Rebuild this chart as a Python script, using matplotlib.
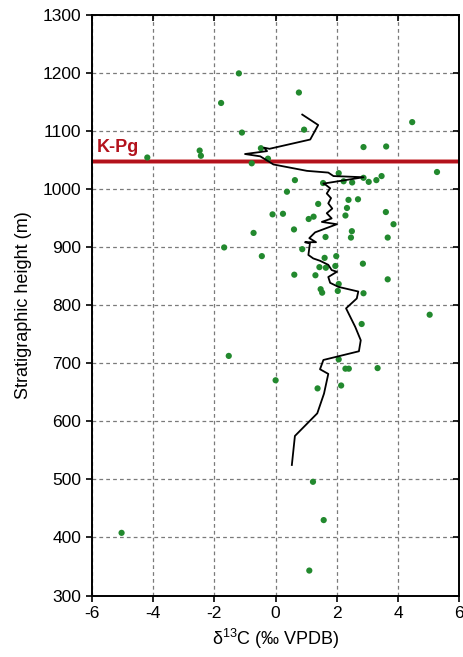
import matplotlib
matplotlib.use("Agg")
import matplotlib.pyplot as plt

plt.rcParams['font.family'] = ['Liberation Sans', 'DejaVu Sans']
plt.rcParams['mathtext.fontset'] = 'custom'
plt.rcParams['mathtext.rm'] = 'Liberation Sans'
plt.rcParams['mathtext.default'] = 'regular'
plt.rcParams['axes.unicode_minus'] = False

# Sample points: d13C (x) and stratigraphic height (y)
pts_x = [-1.2, 0.76, -1.78, 4.46, 0.93, -1.1, -0.48, 2.87, 3.61, -2.48,
         -2.44, -4.19, -0.25, -0.78, 5.27, 2.06, 3.46, 2.87, 3.29, 3.04,
         2.22, 2.5, 0.63, 1.55, 0.37, 2.69, 2.38, 1.39, 2.33, 3.6,
         0.24, -0.1, 2.28, 1.24, 1.08, 3.85, 0.6, 2.49, -0.72, 2.46,
         3.66, 1.63, -1.68, 0.87, -0.45, 1.6, 1.98, 2.85, 1.95, 1.43,
         1.64, 0.61, 1.3, 3.66, 2.06, 1.47, 1.52, 2.03, 2.87, 5.03,
         2.81, -1.53, 2.06, 2.28, 2.39, 3.33, 0.0, 2.14, 1.37, 1.22,
         1.57, -5.03, 1.1]
pts_y = [1200, 1167, 1149, 1116, 1103, 1098, 1071, 1073, 1074, 1067,
         1058, 1055, 1053, 1045, 1030, 1028, 1023, 1020, 1016, 1013,
         1014, 1012, 1016, 1011, 996, 983, 982, 975, 968, 961,
         958, 957, 955, 953, 949, 940, 931, 928, 925, 917,
         917, 918, 900, 897, 885, 882, 885, 872, 868, 866,
         865, 853, 852, 845, 837, 828, 822, 825, 821, 784,
         768, 713, 707, 691, 691, 692, 671, 662, 657, 496,
         430, 408, 343]

# Smoothed curve
curve_x = [0.87, 1.39, 1.13, -0.2, -0.38, -0.28, -1.0, -0.5, -0.07, 1.02,
           1.72, 1.89, 2.87, 1.56, 1.61, 1.78, 1.67, 1.81, 1.72, 1.85,
           1.67, 1.83, 1.51, 2.0, 1.29, 1.1, 1.32, 0.96, 1.12, 1.07,
           1.23, 1.45, 1.72, 1.83, 2.0, 1.72, 1.78, 2.05, 2.7, 2.65,
           2.3, 2.6, 2.78, 2.72, 1.56, 1.45, 1.72, 1.58, 1.36, 0.63, 0.53]
curve_y = [1129, 1111, 1086, 1070, 1072, 1066, 1061, 1057, 1043, 1032,
           1029, 1023, 1021, 1010, 1009, 1002, 993, 985, 976, 967,
           959, 950, 944, 940, 926, 916, 909, 909, 907, 887,
           881, 877, 870, 861, 858, 849, 839, 832, 824, 812,
           795, 763, 740, 721, 706, 690, 682, 648, 614, 575, 525]

kpg_height = 1049
kpg_label = "K-Pg"

x_ticks = [-6, -4, -2, 0, 2, 4, 6]
y_ticks = [300, 400, 500, 600, 700, 800, 900, 1000, 1100, 1200, 1300]

fig = plt.figure(figsize=(4.64, 6.57), dpi=100)
ax = fig.add_axes([0.198, 0.0936, 0.792, 0.883])

ax.set_xlim(-6, 6)
ax.set_ylim(300, 1300)
ax.set_xticks(x_ticks)
ax.set_yticks(y_ticks)
ax.grid(True, linestyle=(0, (3, 2.5)), color='#7a7a7a', linewidth=0.9)
ax.set_axisbelow(True)

ax.axhline(kpg_height, color='#eaa8a8', linewidth=3.6, zorder=2)
ax.axhline(kpg_height, color='#b3121c', linewidth=2.4, zorder=2)
ax.text(-5.85, kpg_height + 8, kpg_label, color='#b3121c', fontsize=13,
        fontweight='bold', ha='left', va='bottom', zorder=5)

ax.scatter(pts_x, pts_y, s=20, color='#22892e', edgecolors='none', zorder=3)
ax.plot(curve_x, curve_y, color='black', linewidth=1.3, zorder=4)

for s in ax.spines.values():
    s.set_linewidth(1.4)

ax.tick_params(axis='both', labelsize=12.5, width=1.2, length=4)
ax.tick_params(axis='y', direction='out', right=True)
ax.tick_params(axis='x', direction='out', top=True)
ax.tick_params(axis='y', which='both', labelright=False)
for t in ax.yaxis.get_ticklines()[1::2]:
    t.set_marker(0)
for t in ax.xaxis.get_ticklines()[1::2]:
    t.set_marker(3)

ax.set_xlabel(r'δ$^{13}$C (‰ VPDB)', fontsize=13, labelpad=4)
ax.set_ylabel('Stratigraphic height (m)', fontsize=13, labelpad=8)

fig.savefig('out.png', dpi=100)
